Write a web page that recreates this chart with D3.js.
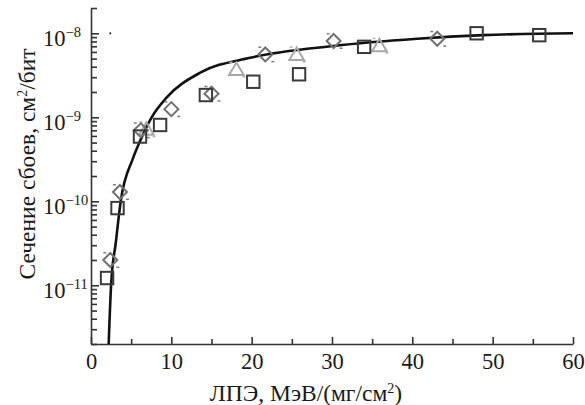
<!DOCTYPE html>
<html lang="ru">
<head>
  <meta charset="UTF-8">
  <title>Сечение сбоев</title>
  <script src="https://d3js.org/d3.v7.min.js"></script>
  <style>
    body { margin: 0; background: #fff; }
    svg { display: block; }
    text { font-family: "Liberation Serif", "DejaVu Serif", serif; fill: #1a1a1a; }
    .axis path, .axis line { stroke: #333; stroke-width: 1.6px; }
  </style>
</head>
<body>
  <svg width="585" height="405"></svg>

  <script>
    // fitted curve
    const curveL = [2.2, 2.5, 3.1, 3.7, 5.2, 6.1, 7.55, 9.4, 13.6, 19.8, 30.2, 40.6, 48.8, 60];
    const curveS = [2e-12, 1e-11, 3.3e-11, 1e-10, 3.2e-10, 5.2e-10, 1e-9, 1.71e-9, 3.4e-9, 5.1e-9, 7.06e-9, 8.6e-9, 9.5e-9, 1e-8];

    // squares
    const sqL = [2.0, 3.3, 6.1, 8.6, 14.3, 20.2, 25.9, 34.0, 48.0, 55.8];
    const sqS = [1.22e-11, 8.3e-11, 5.9e-10, 8.1e-10, 1.84e-9, 2.65e-9, 3.25e-9, 6.9e-9, 1.0e-8, 9.5e-9];

    // diamonds
    const dmL = [2.4, 3.6, 6.2, 10.0, 15.0, 21.7, 30.2, 43.1];
    const dmS = [2.0e-11, 1.29e-10, 7.0e-10, 1.25e-9, 1.91e-9, 5.6e-9, 8.1e-9, 8.6e-9];

    // triangles
    const trL = [6.9, 18.1, 25.6, 35.9];
    const trS = [7.2e-10, 3.7e-9, 5.6e-9, 7.1e-9];

    // stray dot near the top
    const dotL = [2.4];
    const dotS = [1e-8];

    const xTicks = [0, 10, 20, 30, 40, 50, 60];
    const xMinor = [5, 15, 25, 35, 45, 55];
    const yMajor = [1e-11, 1e-10, 1e-9, 1e-8];
    const yExp = [-11, -10, -9, -8];

    const svg = d3.select("svg");

    const x = d3.scaleLinear().domain([0, 60]).range([91, 573]);
    const y = d3.scaleLog().domain([2e-12, 2e-8]).range([344, 8]);

    // y minor ticks 2..9 of every decade
    const yMinor = [];
    [1e-12, 1e-11, 1e-10, 1e-9, 1e-8].forEach(d => {
      for (let k = 2; k <= 9; k++) {
        const v = d * k;
        if (v >= 2e-12 && v <= 2e-8) yMinor.push(v);
      }
    });

    svg.append("g")
      .attr("class", "axis")
      .attr("transform", "translate(91,0)")
      .call(d3.axisLeft(y).tickValues(yMinor).tickSize(-6).tickSizeOuter(0).tickFormat(""));

    svg.append("g")
      .attr("class", "axis")
      .attr("transform", "translate(91,0)")
      .call(d3.axisLeft(y).tickValues(yMajor).tickSize(-8).tickSizeOuter(0).tickFormat(""))
      .call(g => g.select(".domain").remove());

    const yl = svg.append("g");
    yMajor.forEach((v, i) => {
      const t = yl.append("text")
        .attr("x", 43)
        .attr("y", y(v) + 13)
        .attr("font-size", 22.5);
      t.append("tspan").text("10");
      t.append("tspan")
        .attr("dy", -9)
        .attr("font-size", 14.5)
        .text("\u2212" + Math.abs(yExp[i]));
    });

    svg.append("g")
      .attr("class", "axis")
      .attr("transform", "translate(0,344)")
      .call(d3.axisBottom(x).tickValues(xMinor).tickSize(-5).tickSizeOuter(0).tickFormat(""));

    svg.append("g")
      .attr("class", "axis")
      .attr("transform", "translate(0,344)")
      .call(d3.axisBottom(x).tickValues(xTicks).tickSize(-7).tickSizeOuter(0).tickPadding(9))
      .call(g => g.select(".domain").remove())
      .call(g => g.selectAll("text")
        .attr("font-size", 22.5)
        .attr("font-family", "Liberation Serif")
        .attr("fill", "#1a1a1a"));

    // titles
    const xt = svg.append("text")
      .attr("x", 306)
      .attr("y", 401)
      .attr("text-anchor", "middle")
      .attr("font-size", 23.5);
    xt.append("tspan").text("ЛПЭ, МэВ/(мг/см");
    xt.append("tspan").attr("dy", -8).attr("font-size", 14).text("2");
    xt.append("tspan").attr("dy", 8).text(")");

    const yt = svg.append("text")
      .attr("transform", "translate(35,164) rotate(-90)")
      .attr("text-anchor", "middle")
      .attr("font-size", 23.5);
    yt.append("tspan").text("Сечение сбоев, см");
    yt.append("tspan").attr("dy", -8).attr("font-size", 14).text("2");
    yt.append("tspan").attr("dy", 8).text("/бит");

    // plot area clip
    svg.append("clipPath").attr("id", "clip")
      .append("rect").attr("x", 91).attr("y", 0).attr("width", 490).attr("height", 344);

    const plot = svg.append("g").attr("clip-path", "url(#clip)");

    // fit curve
    const line = d3.line()
      .x(i => x(curveL[i]))
      .y(i => y(curveS[i]))
      .curve(d3.curveMonotoneX);

    plot.append("path")
      .attr("d", line(d3.range(curveL.length)))
      .attr("fill", "none")
      .attr("stroke", "#111")
      .attr("stroke-width", 2.6);

    // small error marks
    function errMarks(g, color) {
      g.append("rect").attr("x", -7).attr("y", -8).attr("width", 3).attr("height", 1.5).attr("fill", color);
      g.append("rect").attr("x", 6).attr("y", 6.5).attr("width", 3).attr("height", 1.5).attr("fill", color);
    }

    // triangles
    d3.range(trL.length).forEach(i => {
      const g = plot.append("g").attr("transform", `translate(${x(trL[i])},${y(trS[i])})`);
      g.append("path")
        .attr("d", "M0,-7L7.3,5.5L-7.3,5.5Z")
        .attr("fill", "none")
        .attr("stroke", "#a8a8a8")
        .attr("stroke-width", 2);
      errMarks(g, "#b5b5b5");
    });

    // diamonds
    d3.range(dmL.length).forEach(i => {
      const g = plot.append("g").attr("transform", `translate(${x(dmL[i])},${y(dmS[i])})`);
      g.append("path")
        .attr("d", "M0,-7L7,0L0,7L-7,0Z")
        .attr("fill", "none")
        .attr("stroke", "#717171")
        .attr("stroke-width", 2);
      errMarks(g, "#808080");
    });

    // squares
    plot.selectAll("rect.sq")
      .data(d3.range(sqL.length))
      .enter().append("rect")
      .attr("class", "sq")
      .attr("x", i => x(sqL[i]) - 6.2)
      .attr("y", i => y(sqS[i]) - 6.2)
      .attr("width", 12.4)
      .attr("height", 12.4)
      .attr("fill", "none")
      .attr("stroke", "#3a3a3a")
      .attr("stroke-width", 2);

    plot.selectAll("circle.dot")
      .data(d3.range(dotL.length))
      .enter().append("circle")
      .attr("class", "dot")
      .attr("cx", i => x(dotL[i]))
      .attr("cy", i => y(dotS[i]))
      .attr("r", 1.1)
      .attr("fill", "#333");
  </script>
</body>
</html>
